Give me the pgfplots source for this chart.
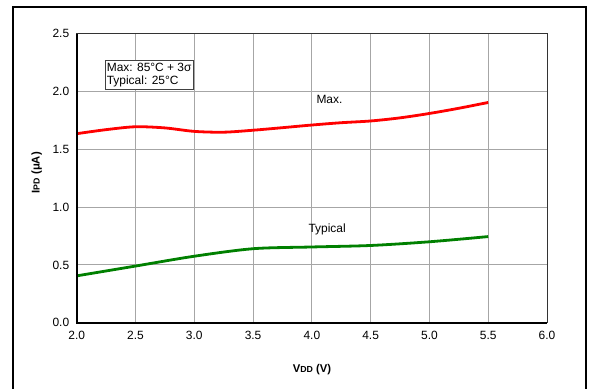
\documentclass[border=0pt]{standalone}
\usepackage{fontspec}
\setmainfont{Liberation Sans}
\usepackage{pgfplots}
\pgfplotsset{compat=1.18}
\begin{document}
\begin{tikzpicture}
\begin{axis}[
  scale only axis,
  width=470.3bp, height=289bp,
  xmin=2, xmax=6, ymin=0, ymax=2.5,
  xtick={2,2.5,...,6}, ytick={0,0.5,...,2.5},
  /pgf/number format/fixed,
  /pgf/number format/fixed zerofill,
  /pgf/number format/precision=1,
  /pgf/number format/assume math mode=true,
  tick label style={font=\fontsize{12}{14}\selectfont},
  xticklabel style={yshift=-5bp},
  yticklabel style={xshift=-4bp},
  major tick length=0pt,
  grid=major,
  major grid style={gray!70, line width=0.9bp},
  axis line style={black!80, line width=0.8bp},
  clip=false,
]
\addplot[red, line width=2.8bp, smooth, tension=0.5] coordinates {
 (2.0,1.635) (2.25,1.67) (2.5,1.695) (2.75,1.685) (3.0,1.655) (3.25,1.648)
 (3.5,1.665) (3.75,1.687) (4.0,1.71) (4.25,1.73) (4.5,1.745) (4.75,1.772) (5.0,1.81) (5.25,1.855) (5.5,1.905)};
\addplot[green!50!black, line width=2.8bp, smooth, tension=0.5] coordinates {
 (2.0,0.405) (2.5,0.49) (3.0,0.575) (3.5,0.64) (4.0,0.655) (4.5,0.668) (5.0,0.70) (5.5,0.745)};
\draw[black, line width=2bp] (rel axis cs:0,1) -- (rel axis cs:0,0) -- (rel axis cs:1,0);
\node[draw=black!75, line width=0.8bp, fill=white, anchor=north west, align=left, inner xsep=1.5bp, inner ysep=2bp,
  font=\fontsize{12}{13.5}\selectfont] at (axis cs:2.24,2.27) {Max: 85°C + 3σ\\Typical: 25°C};
\node[fill=white, inner xsep=5bp, inner ysep=2bp, font=\fontsize{12}{14}\selectfont] at (axis cs:4.15,1.93) {Max.};
\node[font=\fontsize{12}{14}\selectfont] at (axis cs:4.13,0.81) {Typical};
\end{axis}
\node[rotate=90, font=\bfseries\fontsize{11.3}{13}\selectfont] at (-40bp,150bp) {I{\fontsize{8.8}{10}\selectfont PD} (μA)};
\node[font=\bfseries\fontsize{11.3}{13}\selectfont] at (235.2bp,-47.3bp) {V{\fontsize{8.8}{10}\selectfont DD} (V)};
\draw[black, line width=2.2bp] (-63.7bp,-70bp) -- (-63.7bp,315.7bp) -- (509.3bp,315.7bp) -- (509.3bp,-70bp);
\pgfresetboundingbox
\useasboundingbox (-76.7bp,-66.3bp) rectangle (512.3bp,322.7bp);
\end{tikzpicture}
\end{document}
